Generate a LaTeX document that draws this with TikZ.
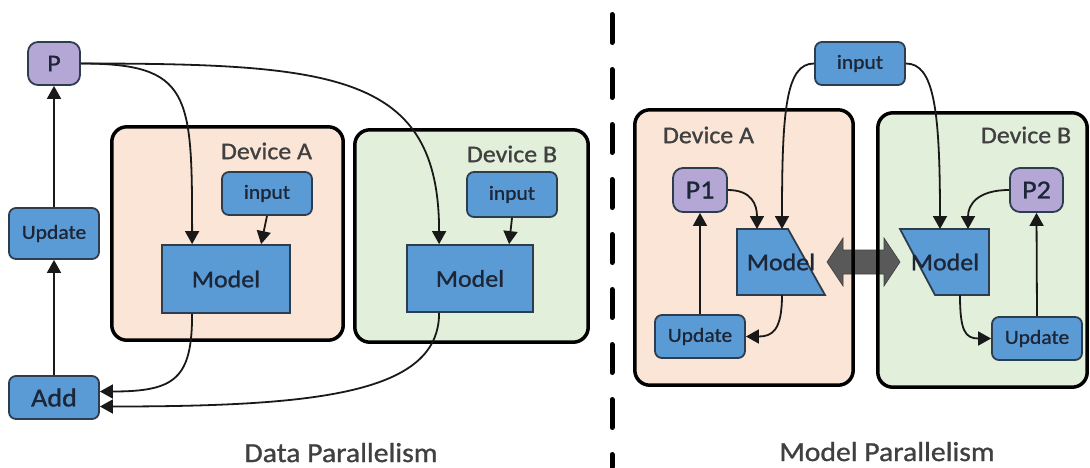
\documentclass[tikz,border=0pt]{standalone}
\usepackage{fontspec}
\setmainfont[FakeStretch=1.08,FakeBold=1]{Carlito}
\usetikzlibrary{arrows.meta,calc}

\definecolor{boxblue}{HTML}{5B9BD5}
\definecolor{boxedge}{HTML}{2E3D4E}
\definecolor{lav}{HTML}{B4A7D6}
\definecolor{peach}{HTML}{FBE5D6}
\definecolor{mint}{HTML}{E2EFDA}
\definecolor{ink}{HTML}{1C2636}
\definecolor{labelgrey}{HTML}{404040}
\definecolor{linkgrey}{HTML}{595959}

\newcommand{\fs}[1]{\fontsize{#1}{#1}\selectfont}

\begin{document}
\begin{tikzpicture}[x=1pt,y=-1pt,
  blk/.style={draw=boxedge, line width=1.8pt, fill=boxblue, text=ink,
    inner sep=0pt, rounded corners=7pt, minimum width=90pt, minimum height=43pt},
  parm/.style={draw=boxedge, line width=1.8pt, fill=lav, text=ink,
    inner sep=0pt, rounded corners=10pt, minimum width=53pt, minimum height=44pt},
  modelbox/.style={draw=boxedge, line width=1.8pt, fill=boxblue, text=ink,
    inner sep=0pt, minimum width=128pt, minimum height=68pt, font=\fs{24}},
  modelshape/.style={draw=boxedge, line width=1.8pt, fill=boxblue},
  modeltext/.style={text=ink, inner sep=0pt, font=\fs{24}},
  devfill/.style={inner sep=0pt, rounded corners=15pt},
  devedge/.style={draw=black, line width=3.5pt, rounded corners=15pt},
  devlabel/.style={text=labelgrey, font=\fs{24}, inner sep=0pt},
  flow/.style={draw=black!90, line width=1.8pt, -{Triangle[length=13pt,width=14pt]}},
  caption/.style={text=labelgrey, font=\fs{27.5}, inner sep=0pt, anchor=base},
  small/.style={font=\fs{20}}
]
\useasboundingbox (0,0) rectangle (1090,467);

% ---------------- device backgrounds ----------------
\node[devfill, fill=peach, minimum width=231pt, minimum height=213pt] (devA) at (227.5,233.5) {};
\node[devfill, fill=mint,  minimum width=233pt, minimum height=212pt] (devB) at (471.5,236) {};
\node[devfill, fill=peach, minimum width=218pt, minimum height=275pt] (devA2) at (744,247.5) {};
\node[devfill, fill=mint,  minimum width=209pt, minimum height=274pt] (devB2) at (982.5,250) {};

% ---------------- link between the two model halves ----------------
\coordinate (link) at (863.5,262);
\filldraw[fill=linkgrey, draw=labelgrey, line width=0.6pt]
  (link) ++(-36.5,0) -- ++(16,-24) -- ++(0,12) -- ++(41,0) -- ++(0,-12)
  -- ++(16,24) -- ++(-16,24) -- ++(0,-12) -- ++(-41,0) -- ++(0,12) -- cycle;

% ---------------- device borders ----------------
\foreach \d in {devA,devB,devA2,devB2}
  \draw[devedge] (\d.south west) rectangle (\d.north east);

% ---------------- separator ----------------
\draw[line width=5pt, line cap=round, dash pattern=on 28pt off 27pt] (612,14.5) -- (612,467);

% ================= data parallelism =================
\node[parm, minimum width=52pt, minimum height=43pt, font=\fs{24}] (P) at (54,63.5) {P};
\node[blk, small, minimum height=51pt] (updL) at (54,233.5) {Update};
\node[blk, font=\fs{26}] (add) at (54,397.5) {Add};

\node[devlabel] (labA) at (266.5,151) {Device A};
\node[devlabel] (labB) at (512,154) {Device B};

\node[blk, small] (inA) at (267,193.5) {input};
\node[blk, small, minimum height=45pt] (inB) at (512,194.5) {input};
\node[modelbox] (modA) at (226,279) {Model};
\node[modelbox, minimum width=126pt, minimum height=67pt] (modB) at (470,278.5) {Model};

\draw[flow] (P.east) .. controls +(110,0) and +(0,-150) .. ($(modA.north west)+(31,0)$);
\draw[flow] (P.east) .. controls +(255,0) and +(0,-170) .. ($(modB.north west)+(33,0)$);
\draw[flow] (inA.south) -- ($(modA.north west)+(100,0)$);
\draw[flow] (inB.south) -- ($(modB.north west)+(103,0)$);
\draw[flow] ($(modA.south west)+(31,0)$) .. controls +(0,65) and +(75,0) .. ($(add.east)+(0,-6)$);
\draw[flow] ($(modB.south west)+(33,0)$) .. controls +(0,80) and +(220,0) .. ($(add.east)+(0,9)$);
\draw[flow] (add.north) -- (updL.south);
\draw[flow] (updL.north) -- (P.south);

\node[caption] (capD) at (341,462) {Data Parallelism};

% ================= model parallelism =================
\node[blk, small] (inT) at (860,63.5) {input};

\node[devlabel] (labA2) at (708.5,135) {Device A};
\node[devlabel] (labB2) at (1026,135) {Device B};

\node[parm, font=\fs{26}, minimum width=54pt] (P1) at (700,190) {P1};
\node[parm, font=\fs{26}] (P2) at (1036.5,190) {P2};

% first half of the model (slanted on the right)
\coordinate (mA2) at (781,262);
\draw[modelshape] (mA2) ++(-44,-33) -- ++(51,0) -- ++(37,66) -- ++(-88,0) -- cycle;
\node[modeltext] (tA2) at (mA2) {Model};

% second half of the model (slanted on the left)
\coordinate (mB2) at (945,262);
\draw[modelshape] (mB2) ++(-45,-33) -- ++(89,0) -- ++(0,66) -- ++(-54,0) -- cycle;
\node[modeltext] (tB2) at (mB2) {Model};

\node[blk, small] (updA2) at (700,336.5) {Update};
\node[blk, small] (updB2) at (1037,338.5) {Update};

\draw[flow] (inT.west) .. controls +(-28,0) and +(0,-120) .. ($(mA2)+(1,-33)$);
\draw[flow] (inT.east) .. controls +(28,0) and +(0,-120) .. ($(mB2)+(-5,-33)$);
\draw[flow] (P1.east) .. controls +(24,0) and +(0,-24) .. ($(mA2)+(-24,-33)$);
\draw[flow] (P2.west) .. controls +(-32,0) and +(0,-24) .. ($(mB2)+(23,-33)$);
\draw[flow] ($(mA2)+(1,33)$) .. controls +(0,36) and +(26,0) .. (updA2.east);
\draw[flow] ($(mB2)+(15,33)$) .. controls +(0,36) and +(-26,0) .. (updB2.west);
\draw[flow] (updA2.north) -- (P1.south);
\draw[flow] (updB2.north) -- (P2.south);

\node[caption] (capM) at (887,461) {Model Parallelism};
\end{tikzpicture}
\end{document}
